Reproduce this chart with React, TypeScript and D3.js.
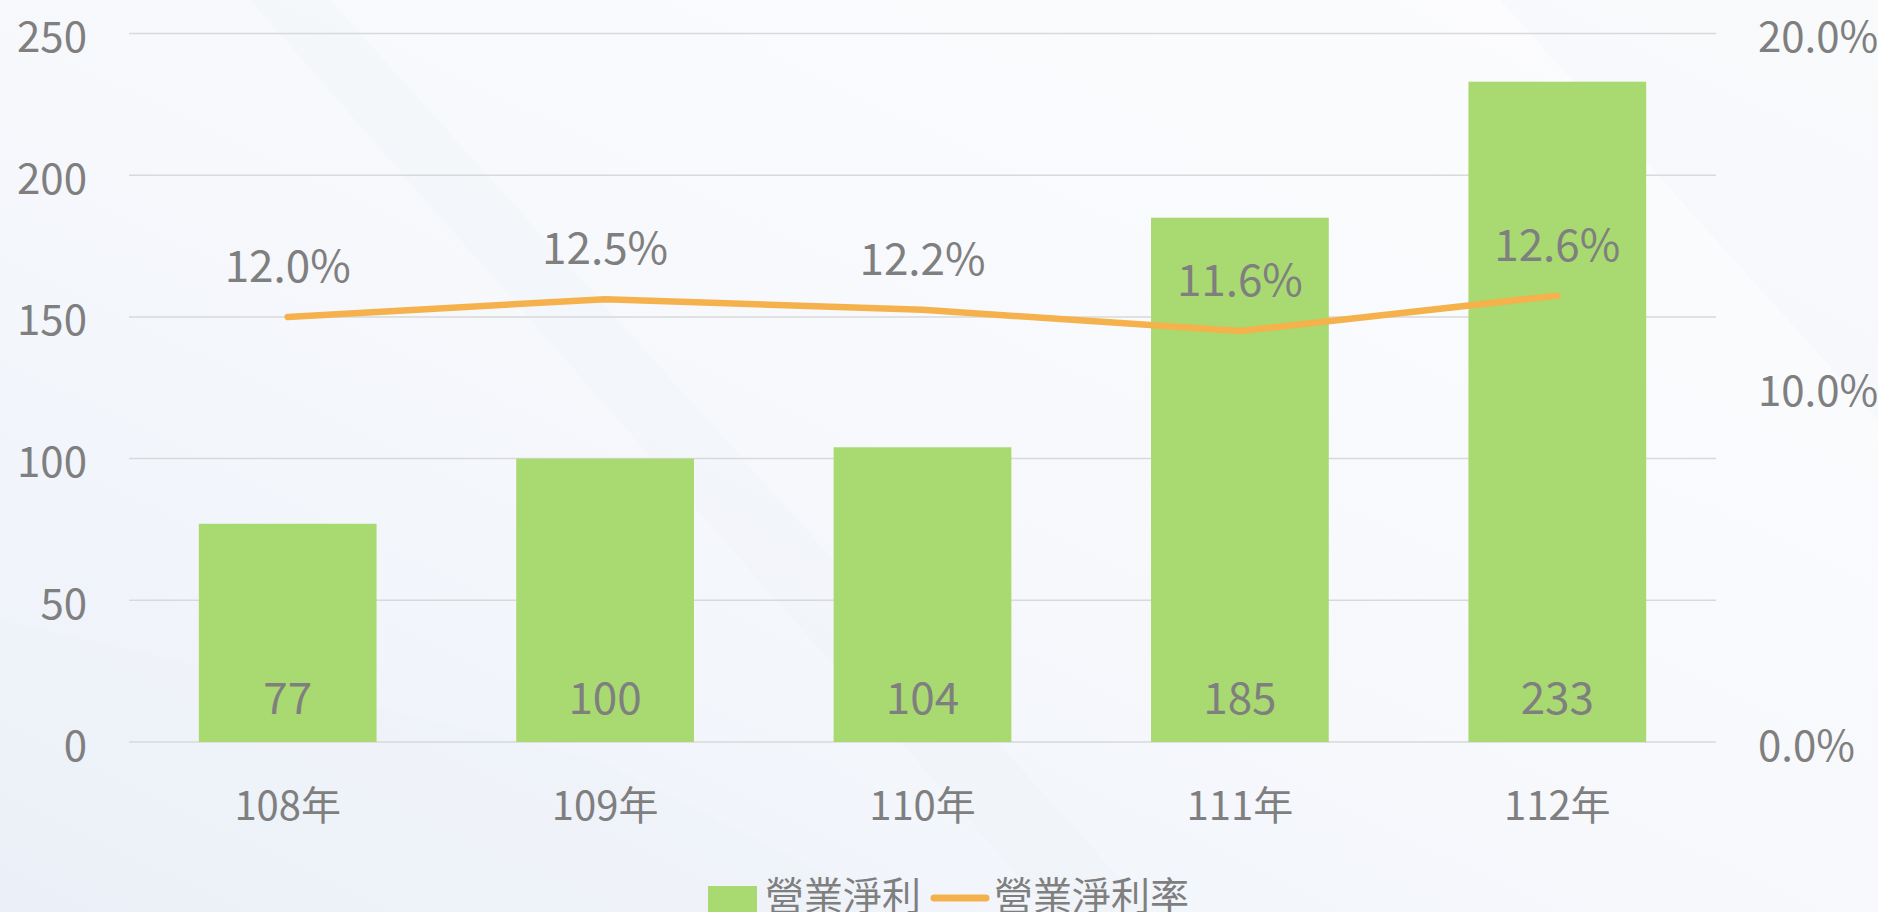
import React, { useEffect, useRef } from "react";
import * as d3 from "d3";

const years = ["108年", "109年", "110年", "111年", "112年"];
const netProfit = [77, 100, 104, 185, 233];
const netMargin = [0.12, 0.125, 0.122, 0.116, 0.126];
const leftTicks = [0, 50, 100, 150, 200, 250];
const rightTicks = [0, 0.1, 0.2];
const legendNames = ["營業淨利", "營業淨利率"];

const FONT = '"Noto Sans CJK TC", "Noto Sans CJK SC", "Noto Sans", sans-serif';
const GRAY = "#7f7f7f";
const GREEN = "#a9d971";
const ORANGE = "#f5b24c";

const App = () => {
  const svgRef = useRef<SVGSVGElement>(null);

  useEffect(() => {
    document.body.style.margin = "0";
    const width = 1878;
    const height = 912;
    const margin = { top: 33.5, right: 162, bottom: 170, left: 129 };

    const svg = d3.select(svgRef.current)
      .attr("width", width)
      .attr("height", height)
      .style("display", "block");
    svg.selectAll("*").remove();

    // soft background
    const defs = svg.append("defs");
    const bg = defs.append("linearGradient")
      .attr("id", "bg")
      .attr("x1", "0").attr("y1", "1")
      .attr("x2", "1").attr("y2", "0");
    bg.append("stop").attr("offset", "0").attr("stop-color", "#ecf1f9");
    bg.append("stop").attr("offset", "0.45").attr("stop-color", "#f6f8fc");
    bg.append("stop").attr("offset", "1").attr("stop-color", "#fdfdfe");
    svg.append("rect").attr("width", width).attr("height", height).attr("fill", "url(#bg)");

    const streaks = [
      [[0, 620], [600, 760], [900, 912], [0, 912]],
      [[250, 0], [330, 0], [1150, 912], [1050, 912]],
      [[1500, 0], [1878, 0], [1878, 420]],
    ];
    svg.append("g")
      .selectAll("path")
      .data(streaks)
      .join("path")
      .attr("d", (d) => d3.line()(d as [number, number][]) + "Z")
      .attr("fill", "#e9eef7")
      .attr("opacity", 0.2);

    const x = d3.scaleBand()
      .domain(years)
      .range([margin.left, width - margin.right])
      .paddingInner(0.44)
      .paddingOuter(0.22);

    const y = d3.scaleLinear()
      .domain([0, 250])
      .range([height - margin.bottom, margin.top]);

    const y2 = d3.scaleLinear()
      .domain([0, 0.2])
      .range([height - margin.bottom, margin.top]);

    // gridlines
    svg.append("g")
      .selectAll("line")
      .data(leftTicks)
      .join("line")
      .attr("x1", margin.left)
      .attr("x2", width - margin.right)
      .attr("y1", (d) => y(d))
      .attr("y2", (d) => y(d))
      .attr("stroke", "#d9d9d9")
      .attr("stroke-width", 1.5);

    // left axis labels
    svg.append("g")
      .selectAll("text")
      .data(leftTicks)
      .join("text")
      .attr("x", 87)
      .attr("y", (d) => y(d))
      .attr("text-anchor", "end")
      .attr("dominant-baseline", "central")
      .attr("font-family", FONT)
      .attr("font-size", 42)
      .attr("fill", GRAY)
      .text((d) => d);

    // right axis labels
    svg.append("g")
      .selectAll("text")
      .data(rightTicks)
      .join("text")
      .attr("x", 1758)
      .attr("y", (d) => y2(d))
      .attr("text-anchor", "start")
      .attr("dominant-baseline", "central")
      .attr("font-family", FONT)
      .attr("font-size", 42)
      .attr("fill", GRAY)
      .text((d) => d3.format(".1%")(d));

    // category labels
    svg.append("g")
      .selectAll("text")
      .data(years)
      .join("text")
      .attr("x", (d) => x(d)! + x.bandwidth() / 2)
      .attr("y", 803)
      .attr("text-anchor", "middle")
      .attr("dominant-baseline", "central")
      .attr("font-family", FONT)
      .attr("font-size", 40)
      .attr("fill", GRAY)
      .text((d) => d);

    // bars
    svg.append("g")
      .selectAll("rect")
      .data(netProfit)
      .join("rect")
      .attr("x", (d, i) => x(years[i])!)
      .attr("y", (d) => y(d))
      .attr("width", x.bandwidth())
      .attr("height", (d) => y(0) - y(d))
      .attr("fill", GREEN);

    svg.append("g")
      .selectAll("text")
      .data(netProfit)
      .join("text")
      .attr("x", (d, i) => x(years[i])! + x.bandwidth() / 2)
      .attr("y", 695)
      .attr("text-anchor", "middle")
      .attr("dominant-baseline", "central")
      .attr("font-family", FONT)
      .attr("font-size", 44)
      .attr("fill", GRAY)
      .text((d) => d);

    // margin line
    const line = d3.line<number>()
      .x((d, i) => x(years[i])! + x.bandwidth() / 2)
      .y((d) => y2(d));

    svg.append("path")
      .datum(netMargin)
      .attr("d", line)
      .attr("fill", "none")
      .attr("stroke", ORANGE)
      .attr("stroke-width", 6.5)
      .attr("stroke-linecap", "round")
      .attr("stroke-linejoin", "round");

    svg.append("g")
      .selectAll("text")
      .data(netMargin)
      .join("text")
      .attr("x", (d, i) => x(years[i])! + x.bandwidth() / 2)
      .attr("y", (d) => y2(d) - 54)
      .attr("text-anchor", "middle")
      .attr("dominant-baseline", "central")
      .attr("font-family", FONT)
      .attr("font-size", 44)
      .attr("fill", GRAY)
      .text((d) => d3.format(".1%")(d));

    // legend
    const legend = svg.append("g").attr("font-family", FONT).attr("font-size", 39).attr("fill", GRAY);
    legend.append("rect")
      .attr("x", 708).attr("y", 886)
      .attr("width", 49).attr("height", 40)
      .attr("fill", GREEN);
    legend.append("text")
      .attr("x", 765).attr("y", 893)
      .attr("dominant-baseline", "central")
      .text(legendNames[0]);
    legend.append("line")
      .attr("x1", 934).attr("x2", 986)
      .attr("y1", 898).attr("y2", 898)
      .attr("stroke", ORANGE)
      .attr("stroke-width", 7)
      .attr("stroke-linecap", "round");
    legend.append("text")
      .attr("x", 994).attr("y", 893)
      .attr("dominant-baseline", "central")
      .text(legendNames[1]);
  }, []);

  return (
    <div>
      <svg ref={svgRef} />
    </div>
  );
};

export default App;
